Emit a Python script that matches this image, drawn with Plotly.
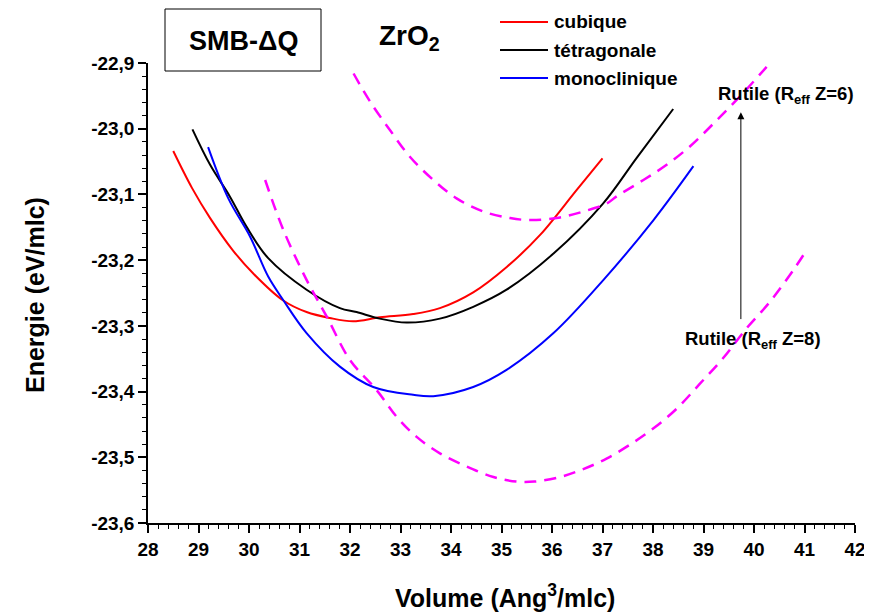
import plotly.graph_objects as go

# cubique
cub_x = [28.5, 28.87, 29.23, 29.68, 30.08, 30.67, 31.14, 31.6, 32.06, 32.59, 33.25, 33.78, 34.44, 35.11, 35.76, 36.49, 37.0]
cub_y = [-23.034, -23.090, -23.136, -23.185, -23.220, -23.261, -23.279, -23.288, -23.293, -23.287, -23.282, -23.273, -23.249, -23.210, -23.162, -23.093, -23.045]

# tétragonale
tet_x = [28.88, 29.23, 29.62, 29.95, 30.38, 31.14, 31.80, 32.13, 32.59, 33.12, 33.78, 34.44, 35.10, 36.03, 37.01, 37.67, 38.40]
tet_y = [-23.001, -23.055, -23.103, -23.149, -23.197, -23.245, -23.273, -23.279, -23.289, -23.295, -23.289, -23.271, -23.245, -23.190, -23.114, -23.045, -22.970]

# monoclinique
mono_x = [29.19, 29.59, 30.02, 30.38, 30.68, 31.14, 31.80, 32.46, 33.25, 33.65, 34.44, 35.10, 36.03, 37.02, 38.01, 38.80]
mono_y = [-23.028, -23.106, -23.164, -23.225, -23.261, -23.311, -23.362, -23.393, -23.405, -23.407, -23.393, -23.367, -23.311, -23.230, -23.139, -23.057]

# Rutile Reff Z=6
r6_x = [32.07, 32.40, 32.79, 33.19, 33.65, 34.11, 34.64, 35.17, 35.56, 36.09, 36.62, 37.08, 37.28, 37.81, 38.27, 38.73, 39.20, 39.72, 40.25]
r6_y = [-22.916, -22.959, -23.002, -23.043, -23.078, -23.106, -23.126, -23.136, -23.139, -23.136, -23.126, -23.114, -23.103, -23.078, -23.055, -23.027, -22.992, -22.951, -22.906]

# Rutile Reff Z=8
r8_x = [30.32, 30.68, 31.14, 31.54, 32.00, 32.53, 32.92, 33.32, 33.78, 34.31, 34.84, 35.30, 35.65, 36.16, 36.62, 37.08, 37.54, 38.01, 38.47, 38.93, 39.39, 39.85, 40.32, 40.78, 41.03]
r8_y = [-23.078, -23.154, -23.230, -23.286, -23.352, -23.398, -23.438, -23.469, -23.494, -23.514, -23.530, -23.537, -23.537, -23.530, -23.518, -23.502, -23.481, -23.456, -23.426, -23.388, -23.349, -23.304, -23.263, -23.215, -23.186]

arrow_x = 39.74
arrow_y_tail = -23.292
arrow_y_head = -22.975

series_names = ["cubique", "tétragonale", "monoclinique"]
series_colors = ["#ff0000", "#000000", "#0000ff"]

x_ticks = [28, 29, 30, 31, 32, 33, 34, 35, 36, 37, 38, 39, 40, 41, 42]
y_ticks = [-23.6, -23.5, -23.4, -23.3, -23.2, -23.1, -23.0, -22.9]
y_tick_labels = ["-23,6", "-23,5", "-23,4", "-23,3", "-23,2", "-23,1", "-23,0", "-22,9"]

FONT = "Liberation Sans, Arial, sans-serif"
OFF = 8  # default page body margin
W, H = 872 - OFF, 613 - OFF
L, R, T, B = 148 - OFF, 17, 63 - OFF, 90
PW, PH = W - L - R, H - T - B


def px(xp):  # window pixel -> paper x
    return (xp - OFF - L) / PW


def py(yp):  # window pixel -> paper y
    return (H - B - (yp - OFF)) / PH


fig = go.Figure()
for xs, ys, nm, col in [(cub_x, cub_y, series_names[0], series_colors[0]),
                        (tet_x, tet_y, series_names[1], series_colors[1]),
                        (mono_x, mono_y, series_names[2], series_colors[2])]:
    fig.add_trace(go.Scatter(x=xs, y=ys, mode="lines", name=nm, showlegend=False,
                             line=dict(color=col, width=2, shape="spline")))
fig.add_trace(go.Scatter(x=r6_x, y=r6_y, mode="lines", showlegend=False,
                         line=dict(color="#ff00ff", width=2.5, dash="12px,8px", shape="spline")))
fig.add_trace(go.Scatter(x=r8_x, y=r8_y, mode="lines", showlegend=False,
                         line=dict(color="#ff00ff", width=2.5, dash="12px,8px", shape="spline")))

fig.update_layout(
    width=W, height=H,
    margin=dict(l=L, r=R, t=T, b=B, autoexpand=False),
    plot_bgcolor="white", paper_bgcolor="white",
    font=dict(family=FONT, color="black"),
    showlegend=False,
    xaxis=dict(range=[28, 42], tickvals=x_ticks, ticktext=["<b>%d</b>" % v for v in x_ticks],
               showline=True, linecolor="black", linewidth=1.5, automargin=False,
               ticks="outside", ticklen=8, tickwidth=1.5, tickcolor="black",
               minor=dict(dtick=0.2, tick0=28, ticks="outside", ticklen=4, tickwidth=1, tickcolor="black"),
               showgrid=False, zeroline=False,
               tickfont=dict(size=19, family=FONT)),
    yaxis=dict(range=[-23.6, -22.9], tickvals=y_ticks, ticktext=["<b>" + t + "</b>" for t in y_tick_labels],
               showline=True, linecolor="black", linewidth=1.5, automargin=False,
               ticks="outside", ticklen=8, tickwidth=1.5, tickcolor="black",
               minor=dict(dtick=0.02, tick0=-23.6, ticks="outside", ticklen=4, tickwidth=1, tickcolor="black"),
               showgrid=False, zeroline=False,
               tickfont=dict(size=19, family=FONT)),
)


def label(xp, yp, text, size, **kw):
    fig.add_annotation(x=px(xp), y=py(yp), xref="paper", yref="paper", text=text, showarrow=False,
                       xanchor=kw.pop("xanchor", "center"), yanchor="middle",
                       font=dict(size=size, family=FONT, color="black"), **kw)


# axis titles
label(35, 295, "<b>Energie (eV/mlc)</b>", 25, textangle=-90)
label(505, 596, "<b>Volume (Ang<sup>3</sup>/mlc)</b>", 25)

# legend (manual)
for i, (nm, col) in enumerate(zip(series_names, series_colors)):
    yy = 22 + 28 * i
    fig.add_shape(type="line", xref="paper", yref="paper", x0=px(500), x1=px(548), y0=py(yy), y1=py(yy),
                  line=dict(color=col, width=2))
    label(552, yy, "<b>" + nm + "</b>", 19, xanchor="left")

# SMB-ΔQ box
fig.add_shape(type="rect", xref="paper", yref="paper", x0=px(165), x1=px(321),
              y0=py(71), y1=py(9), line=dict(color="black", width=1))
label(243, 41, "<b>SMB-ΔQ</b>", 27)
label(409, 37, "<b>ZrO<sub>2</sub></b>", 28)

# arrow
fig.add_annotation(x=arrow_x, y=arrow_y_head, ax=arrow_x, ay=arrow_y_tail, xref="x", yref="y", axref="x", ayref="y",
                   text="", showarrow=True, arrowhead=2, arrowsize=1.4, arrowwidth=1, arrowcolor="black")
label(786, 95, "<b>Rutile (R<sub>eff</sub> Z=6)</b>", 18.5)
label(753, 340, "<b>Rutile (R<sub>eff</sub> Z=8)</b>", 18.5)

fig.write_html("out.html")
